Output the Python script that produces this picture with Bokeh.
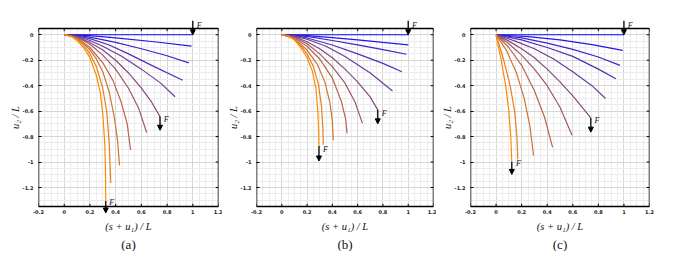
from bokeh.plotting import figure
from bokeh.layouts import row
from bokeh.models import (Range1d, FixedTicker, CustomJSTickFormatter, Arrow,
                          NormalHead, Label, Title)
from bokeh.embed import file_html
from bokeh.resources import INLINE

# ---------------- data ----------------
x_ticks = [-0.2, 0, 0.2, 0.4, 0.6, 0.8, 1, 1.2]
y_ticks = [0, -0.2, -0.4, -0.6, -0.8, -1, -1.2]
captions = ["(a)", "(b)", "(c)"]

# panel (a)
a_x = [
    [0, 1.0],
    [0, 0.1, 0.2, 0.4, 0.7, 0.99],
    [0, 0.1, 0.2, 0.4, 0.6, 0.8, 0.969],
    [0, 0.1, 0.2, 0.35, 0.5, 0.7, 0.922],
    [0, 0.1, 0.2, 0.3, 0.45, 0.6, 0.75, 0.862],
    [0, 0.1, 0.2, 0.3, 0.4, 0.5, 0.6, 0.68, 0.745],
    [0, 0.1, 0.2, 0.3, 0.4, 0.5, 0.58, 0.641],
    [0, 0.1, 0.2, 0.3, 0.38, 0.44, 0.49, 0.516],
    [0, 0.05, 0.1, 0.15, 0.2, 0.25, 0.3, 0.35, 0.39, 0.415, 0.43],
    [0, 0.05, 0.1, 0.15, 0.2, 0.25, 0.3, 0.33, 0.35, 0.362],
    [0, 0.05, 0.1, 0.15, 0.2, 0.25, 0.28, 0.3, 0.315, 0.321, 0.323],
]
a_y = [
    [0, 0],
    [0, -0.002, -0.007, -0.025, -0.055, -0.089],
    [0, -0.005, -0.018, -0.06, -0.11, -0.165, -0.221],
    [0, -0.01, -0.03, -0.08, -0.15, -0.25, -0.357],
    [0, -0.012, -0.045, -0.09, -0.17, -0.27, -0.38, -0.487],
    [0, -0.017, -0.06, -0.12, -0.2, -0.3, -0.42, -0.53, -0.643],
    [0, -0.02, -0.075, -0.16, -0.27, -0.42, -0.58, -0.768],
    [0, -0.025, -0.1, -0.22, -0.36, -0.52, -0.7, -0.904],
    [0, -0.007, -0.03, -0.065, -0.12, -0.19, -0.29, -0.45, -0.65, -0.83, -1.026],
    [0, -0.008, -0.035, -0.08, -0.15, -0.25, -0.42, -0.6, -0.85, -1.164],
    [0, -0.01, -0.045, -0.10, -0.18, -0.32, -0.45, -0.62, -0.85, -1.05, -1.307],
]

# panel (b)
b_x = [
    [0, 1.0],
    [0, 0.2, 0.4, 0.6, 0.8, 1.0],
    [0, 0.1, 0.2, 0.4, 0.6, 0.8, 0.987],
    [0, 0.1, 0.2, 0.4, 0.6, 0.8, 0.95],
    [0, 0.1, 0.2, 0.35, 0.5, 0.7, 0.876],
    [0, 0.1, 0.2, 0.3, 0.4, 0.5, 0.6, 0.7, 0.759],
    [0, 0.1, 0.2, 0.3, 0.4, 0.5, 0.58, 0.638],
    [0, 0.1, 0.2, 0.3, 0.4, 0.47, 0.505, 0.516],
    [0, 0.1, 0.2, 0.28, 0.34, 0.38, 0.4, 0.407],
    [0, 0.05, 0.1, 0.15, 0.2, 0.25, 0.29, 0.315, 0.325, 0.328],
    [0, 0.05, 0.1, 0.15, 0.2, 0.24, 0.27, 0.285, 0.292, 0.294],
]
b_y = [
    [0, 0],
    [0, -0.006, -0.022, -0.04, -0.06, -0.079],
    [0, -0.004, -0.013, -0.045, -0.08, -0.117, -0.153],
    [0, -0.007, -0.025, -0.08, -0.15, -0.225, -0.291],
    [0, -0.01, -0.035, -0.09, -0.17, -0.3, -0.442],
    [0, -0.015, -0.055, -0.11, -0.18, -0.27, -0.37, -0.49, -0.59],
    [0, -0.02, -0.07, -0.15, -0.25, -0.38, -0.53, -0.696],
    [0, -0.025, -0.09, -0.19, -0.34, -0.52, -0.66, -0.775],
    [0, -0.03, -0.12, -0.23, -0.37, -0.53, -0.68, -0.828],
    [0, -0.009, -0.035, -0.085, -0.15, -0.25, -0.39, -0.57, -0.73, -0.865],
    [0, -0.01, -0.04, -0.1, -0.18, -0.28, -0.42, -0.6, -0.75, -0.873],
]

# panel (c)
c_x = [
    [0, 1.0],
    [0, 0.25, 0.5, 0.75, 0.99],
    [0, 0.2, 0.4, 0.6, 0.8, 0.969],
    [0, 0.2, 0.4, 0.6, 0.8, 0.937],
    [0, 0.15, 0.3, 0.45, 0.6, 0.75, 0.856],
    [0, 0.1, 0.2, 0.3, 0.4, 0.5, 0.6, 0.741],
    [0, 0.1, 0.2, 0.3, 0.4, 0.5, 0.594],
    [0, 0.1, 0.2, 0.3, 0.38, 0.442],
    [0, 0.08, 0.16, 0.22, 0.265, 0.293],
    [0, 0.06, 0.11, 0.145, 0.163, 0.17],
    [0, 0.04, 0.075, 0.1, 0.115, 0.123],
]
c_y = [
    [0, 0],
    [0, -0.015, -0.04, -0.077, -0.123],
    [0, -0.025, -0.065, -0.115, -0.175, -0.24],
    [0, -0.04, -0.1, -0.17, -0.27, -0.345],
    [0, -0.05, -0.11, -0.19, -0.29, -0.4, -0.501],
    [0, -0.05, -0.11, -0.18, -0.27, -0.37, -0.48, -0.653],
    [0, -0.07, -0.16, -0.27, -0.4, -0.57, -0.789],
    [0, -0.1, -0.24, -0.44, -0.65, -0.885],
    [0, -0.12, -0.3, -0.5, -0.72, -0.95],
    [0, -0.2, -0.4, -0.6, -0.8, -0.979],
    [0, -0.2, -0.4, -0.6, -0.8, -0.997],
]

# force arrows: (x, y_start, y_end) and F label positions
a_arrows = [(1.0, 0.11, 0.0), (0.745, -0.643, -0.75), (0.323, -1.307, -1.40)]
a_flabels = [(1.03, 0.075), (0.775, -0.665), (0.35, -1.315)]
b_arrows = [(1.0, 0.11, 0.0), (0.759, -0.59, -0.70), (0.294, -0.873, -0.992)]
b_flabels = [(1.03, 0.075), (0.79, -0.62), (0.325, -0.9)]
c_arrows = [(1.0, 0.11, 0.0), (0.741, -0.653, -0.765), (0.123, -0.997, -1.097)]
c_flabels = [(1.03, 0.075), (0.77, -0.675), (0.155, -1.015)]

panels = [(a_x, a_y, a_arrows, a_flabels),
          (b_x, b_y, b_arrows, b_flabels),
          (c_x, c_y, c_arrows, c_flabels)]

# ---------------- style ----------------
c0 = (10, 10, 255)
c1 = (255, 140, 0)
n = 11
palette = ["#%02x%02x%02x" % tuple(int(round(c0[k] + (c1[k] - c0[k]) * i / (n - 1))) for k in range(3))
           for i in range(n)]

# box limits (drawn), and frame limits (slightly larger so arrows can stick out)
BX0, BX1, BY0, BY1 = -0.2, 1.2, -1.35, 0.05
FY0, FY1 = -1.42, 0.12

geom = [  # (frame_width, border_left, border_right)
    (180, 38, 4),
    (177, 34, 3),
    (179, 34, 16),
]

fmt = CustomJSTickFormatter(code="return String(Number(tick.toFixed(2)));")
minor_x = [round(-0.2 + 0.05 * i, 2) for i in range(29)]
minor_y = [round(0.05 - 0.05 * i, 2) for i in range(29)]
tick_len = 0.022

figs = []
for idx, (xs, ys, arrows, flabels) in enumerate(panels):
    fw, bl, br = geom[idx]
    p = figure(frame_width=fw, frame_height=196, output_backend="svg", toolbar_location=None,
               x_range=Range1d(BX0, BX1), y_range=Range1d(FY0, FY1),
               min_border_left=bl, min_border_right=br, min_border_top=19,
               min_border_bottom=10)
    p.background_fill_color = "white"
    p.border_fill_color = "white"
    p.outline_line_color = None

    p.yaxis.ticker = FixedTicker(ticks=y_ticks)
    p.xaxis.ticker = FixedTicker(ticks=x_ticks)
    yax = p.yaxis[0]
    xax = p.xaxis[0]
    for ax in (xax, yax):
        ax.formatter = fmt
        ax.axis_line_color = None
        ax.major_tick_out = 0
        ax.minor_tick_in = 0
        ax.minor_tick_out = 0
        ax.major_label_text_font = "DejaVu Sans"
        ax.major_label_text_font_style = "bold"
        ax.major_label_text_font_size = "5px"
        ax.major_label_text_color = "#222222"
        ax.axis_label_text_font = "Liberation Serif"
        ax.axis_label_text_font_style = "italic"
        ax.axis_label_text_font_size = "10.5px"
        ax.axis_label_text_color = "#111111"
    yax.major_tick_in = 3
    yax.major_label_standoff = 5
    yax.axis_label_standoff = -1
    # x axis sits at the (enlarged) frame bottom; pull its labels up to the box edge
    xax.major_tick_in = 0
    xax.major_label_standoff = -6
    xax.axis_label_standoff = 4
    xax.axis_label = "(s + u\u2081) / L"
    yax.axis_label = "u\u2082 / L"

    p.xgrid.ticker = FixedTicker(ticks=x_ticks, minor_ticks=minor_x)
    p.ygrid.ticker = FixedTicker(ticks=y_ticks, minor_ticks=minor_y)
    for g in (p.xgrid[0], p.ygrid[0]):
        g.grid_line_color = "#d6d6d6"
        g.grid_line_width = 1
        g.minor_grid_line_color = "#ececec"
        g.minor_grid_line_width = 1

    # white strips outside the box (hide grid there)
    p.quad(left=[BX0, BX0], right=[BX1, BX1], top=[FY1, BY0], bottom=[BY1, FY0],
           fill_color="white", line_color=None)

    # curves
    for i in range(len(xs)):
        p.line(xs[i], ys[i], line_color=palette[i], line_width=1.2)

    # box
    p.quad(left=[BX0], right=[BX1], top=[BY1], bottom=[BY0], fill_color=None,
           line_color="black", line_width=1.5)
    # inward ticks on bottom, top, right
    p.segment(x0=x_ticks, x1=x_ticks, y0=[BY0] * len(x_ticks), y1=[BY0 + tick_len] * len(x_ticks),
              line_color="black", line_width=1)
    p.segment(x0=x_ticks, x1=x_ticks, y0=[BY1] * len(x_ticks), y1=[BY1 - tick_len] * len(x_ticks),
              line_color="black", line_width=1)
    p.segment(x0=[BX1] * len(y_ticks), x1=[BX1 - tick_len] * len(y_ticks), y0=y_ticks, y1=y_ticks,
              line_color="black", line_width=1)

    for (ax_, ys_, ye_) in arrows:
        p.add_layout(Arrow(end=NormalHead(size=5, fill_color="black", line_color="black"),
                           x_start=ax_, y_start=ys_, x_end=ax_, y_end=ye_,
                           line_color="black", line_width=1.3))
    for (fx, fy) in flabels:
        p.add_layout(Label(x=fx, y=fy, text="F", text_font="Liberation Serif",
                           text_font_style="italic", text_font_size="8px",
                           text_color="#111111", text_baseline="middle"))

    p.add_layout(Title(text=captions[idx], align="center", text_font="Liberation Serif",
                       text_font_style="normal", text_font_size="13px",
                       text_color="#111111", standoff=0), "below")
    figs.append(p)

layout = row(*figs, spacing=0)
open("out.html", "w").write(file_html(layout, INLINE))
